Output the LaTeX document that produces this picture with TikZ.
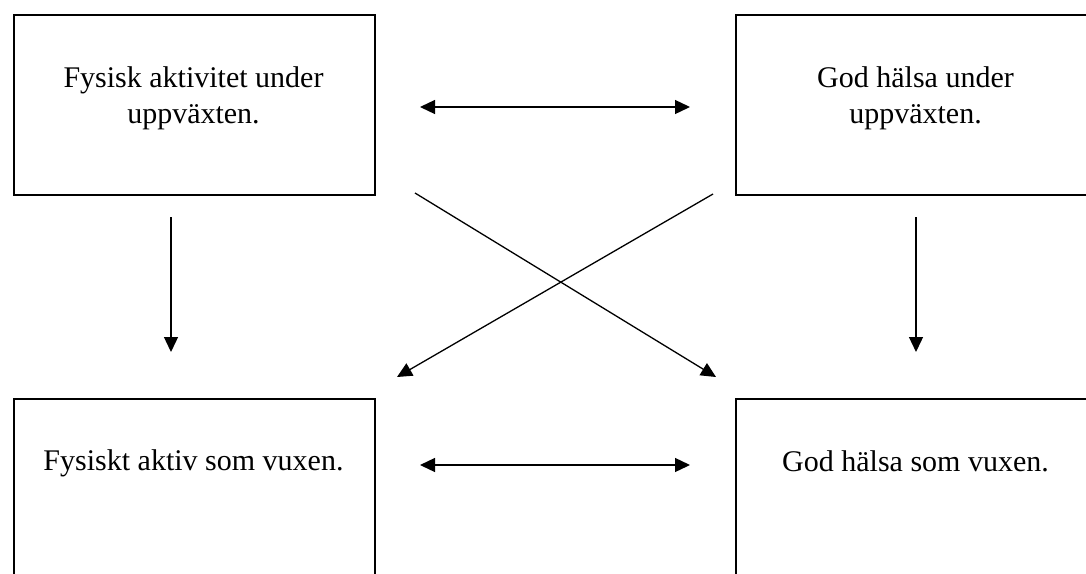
\documentclass[tikz,border=0pt]{standalone}
\usepackage{fontspec}
\setmainfont{Liberation Serif}
\usetikzlibrary{arrows.meta}
\begin{document}
\begin{tikzpicture}[x=1pt,y=-1pt,
  box/.style={draw, line width=1.6pt, minimum width=361pt, minimum height=180pt, anchor=north west, inner sep=0pt},
  txt/.style={font=\fontsize{30}{36}\selectfont, align=center, anchor=base, inner sep=0pt},
  conn/.style={line width=1.3pt, -{Triangle[length=15pt,width=14pt]}},
  dconn/.style={line width=1.3pt, {Triangle[length=15pt,width=14pt]}-{Triangle[length=15pt,width=14pt]}}]
\useasboundingbox (0,0) rectangle (1086,573);
\clip (0,0) rectangle (1086,573);
\fill[white] (0,0) rectangle (1086,573);
\node[box] (tl) at (13,14) {};
\node[box] (tr) at (735,14) {};
\node[box, minimum height=200pt] (bl) at (13,398) {};
\node[box, minimum height=200pt] (br) at (735,398) {};
\node[txt] (tlt) at (193.5,123) {Fysisk aktivitet under\\uppväxten.};
\node[txt] (trt) at (915.5,123) {God hälsa under\\uppväxten.};
\node[txt] (blt) at (193.5,470) {Fysiskt aktiv som vuxen.};
\node[txt] (brt) at (915.5,471) {God hälsa som vuxen.};
\coordinate (a1s) at (171,217);
\coordinate (a1e) at (171,352);
\coordinate (a2s) at (916,217);
\coordinate (a2e) at (916,352);
\coordinate (x1s) at (415,193);
\coordinate (x1e) at (716,377);
\coordinate (x2s) at (713,194);
\coordinate (x2e) at (397,377);
\coordinate (h1s) at (420,107);
\coordinate (h1e) at (690,107);
\coordinate (h2s) at (420,465);
\coordinate (h2e) at (690,465);
\draw[conn] (a1s) -- (a1e);
\draw[conn] (a2s) -- (a2e);
\draw[conn] (x1s) -- (x1e);
\draw[conn] (x2s) -- (x2e);
\draw[dconn] (h1s) -- (h1e);
\draw[dconn] (h2s) -- (h2e);
\end{tikzpicture}
\end{document}
